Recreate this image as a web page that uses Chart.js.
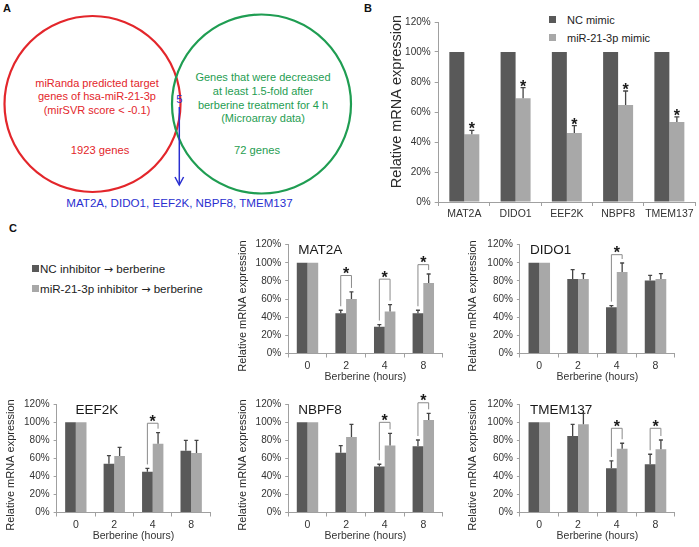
<!DOCTYPE html>
<html><head><meta charset="utf-8">
<script src="https://cdn.jsdelivr.net/npm/chart.js@4.4.1/dist/chart.umd.min.js"></script>
<style>
html,body{margin:0;padding:0;background:#fff}
body{width:699px;height:547px;position:relative;overflow:hidden;font-family:'Liberation Sans',Arial,Helvetica,sans-serif}
.t{position:absolute;white-space:nowrap;line-height:normal;transform:translateY(-50%)}
.tc{transform:translate(-50%,-50%)}
.arr{font-family:'DejaVu Sans',sans-serif;font-size:0.95em}
canvas{position:absolute}
.sq{position:absolute}
svg{position:absolute;left:0;top:0}
</style></head><body>
<script>
// ---------- data ----------
const vennLeftLabel = ['miRanda predicted target','genes of hsa-miR-21-3p','(mirSVR score < -0.1)'];
const vennRightLabel = ['Genes that were decreased','at least 1.5-fold after','berberine treatment for 4 h','(Microarray data)'];
const vennCounts = [1923, 72, 5];

const genes = ['MAT2A','DIDO1','EEF2K','NBPF8','TMEM137'];
const mimicSeries = ['NC mimic','miR-21-3p mimic'];
const ncMimic = [100,100,100,100,100];
const ncMimicErr = [0,0,0,0,0];
const mirMimic = [45.1,69.1,46.0,64.7,53.3];
const mirMimicErr = [2.7,7.1,4.9,9.3,3.4];
const mirMimicSig = [true,true,true,true,true];

const hours = ['0','2','4','8'];
const inhSeries = ['NC inhibitor \u2192 berberine','miR-21-3p inhibitor \u2192 berberine'];

const mat2aNC = [100,44.4,29.4,44.4];   const mat2aNCErr = [0,3.3,2.5,3.3];
const mat2aInh = [100,60.2,46.2,77.8];  const mat2aInhErr = [0,7.7,7.7,9.9];
const mat2aSig = [null,86,82,98];

const dido1NC = [100,82.2,51.0,80.4];   const dido1NCErr = [0,10.3,1.8,5.8];
const dido1Inh = [100,82.2,89.9,82.2];  const dido1InhErr = [0,5.9,9.9,5.9];
const dido1Sig = [null,null,109,null];

const eef2kNC = [100,54.1,45.2,68.5];   const eef2kNCErr = [0,8.9,3.7,11.5];
const eef2kInh = [100,62.6,76.3,65.9];  const eef2kInhErr = [0,9.6,12.2,14.1];
const eef2kSig = [null,null,99,null];

const nbpf8NC = [100,66.4,50.9,73.4];   const nbpf8NCErr = [0,7.8,2.6,7.0];
const nbpf8Inh = [100,83.8,74.2,102.6]; const nbpf8InhErr = [0,14.0,13.6,7.4];
const nbpf8Sig = [null,null,100,121.7];

const tmemNC = [100,84.9,49.1,53.5];    const tmemNCErr = [0,12.9,8.1,11.1];
const tmemInh = [100,97.8,70.8,70.1];   const tmemInhErr = [0,12.2,6.0,10.3];
const tmemSig = [null,null,93.4,93.4];

const yTickValues = [0,20,40,60,80,100,120];

// ---------- styling ----------
const FONT = "'Liberation Sans', Arial, Helvetica, sans-serif";
const C_DARK = '#595959', C_LIGHT = '#a8a8a8', AXIS = '#a0a0a0', TXT = '#333333';

function addText(str, x, y, o) {
  const d = document.createElement('div');
  d.className = 't' + (o.center ? ' tc' : '');
  const parts = str.split('\u2192');
  parts.forEach((p, i) => {
    d.appendChild(document.createTextNode(p));
    if (i < parts.length - 1) {
      const s = document.createElement('span'); s.className = 'arr'; s.textContent = '\u2192'; d.appendChild(s);
    }
  });
  d.style.left = x + 'px'; d.style.top = y + 'px';
  d.style.fontSize = (o.size || 11) + 'px';
  d.style.color = o.color || TXT;
  if (o.bold) d.style.fontWeight = 'bold';
  document.body.appendChild(d);
}
function addSquare(x, y, s, color) {
  const d = document.createElement('div');
  d.className = 'sq';
  d.style.cssText = `left:${x}px;top:${y}px;width:${s}px;height:${s}px;background:${color}`;
  document.body.appendChild(d);
}

// ---------- Venn (panel A) ----------
(function venn() {
  const NS = 'http://www.w3.org/2000/svg';
  const svg = document.createElementNS(NS, 'svg');
  svg.setAttribute('width', 360); svg.setAttribute('height', 215);
  const el = (tag, attrs, text) => {
    const e = document.createElementNS(NS, tag);
    for (const k in attrs) e.setAttribute(k, attrs[k]);
    if (text !== undefined) e.textContent = text;
    svg.appendChild(e); return e;
  };
  const RED = '#e3262b', GREEN = '#1f9d52', BLUE = '#2a2fd0';
  el('circle', {cx: 92.5, cy: 104, r: 88, fill: 'none', stroke: RED, 'stroke-width': 2.2});
  el('circle', {cx: 261.5, cy: 104, r: 89.5, fill: 'none', stroke: GREEN, 'stroke-width': 2.2});
  const tAttr = (x, y, fill, size) => ({x, y, fill, 'font-size': size, 'font-family': FONT, 'text-anchor': 'middle', 'dominant-baseline': 'central'});
  vennLeftLabel.forEach((s, i) => el('text', tAttr(97, 82.7 + i * 13.7, RED, 11), s));
  vennRightLabel.forEach((s, i) => el('text', tAttr(263, 76.7 + i * 13.9, GREEN, 11), s));
  el('text', tAttr(100, 150, RED, 11.2), vennCounts[0] + ' genes');
  el('text', tAttr(257, 150, GREEN, 11.2), vennCounts[1] + ' genes');
  el('text', tAttr(179.3, 98.5, BLUE, 11.2), String(vennCounts[2]));
  el('line', {x1: 179.3, y1: 107, x2: 179.3, y2: 184.5, stroke: BLUE, 'stroke-width': 1.5});
  el('polyline', {points: '175,177 179.3,185 183.6,177', fill: 'none', stroke: BLUE, 'stroke-width': 1.5});
  el('text', tAttr(179.5, 202.5, BLUE, 11.6), genes.join(', '));
  document.body.appendChild(svg);
})();

// ---------- panel letters & legends ----------
addText('A', 3, 7.5, {size: 11, bold: true, color: '#111'});
addText('B', 364, 7.5, {size: 11, bold: true, color: '#111'});
addText('C', 9, 228, {size: 11, bold: true, color: '#111'});

addSquare(549, 16, 7, C_DARK);  addText(mimicSeries[0], 567, 19.5, {size: 11, color: '#222'});
addSquare(549, 34, 7, C_LIGHT); addText(mimicSeries[1], 567, 37.5, {size: 11, color: '#222'});

addSquare(32, 265, 7, C_DARK);  addText(inhSeries[0], 40, 268.5, {size: 11.6, color: '#222'});
addSquare(32, 285, 7, C_LIGHT); addText(inhSeries[1], 40, 288.5, {size: 11.6, color: '#222'});

// ---------- plugins ----------
const errPlugin = {
  id: 'errbars',
  afterDatasetsDraw(chart, args, opts) {
    const ctx = chart.ctx, ys = chart.scales.y;
    ctx.save();
    ctx.lineWidth = 1.3; ctx.strokeStyle = '#454545';
    const tops = [];
    chart.data.datasets.forEach((ds, di) => {
      const meta = chart.getDatasetMeta(di);
      tops[di] = [];
      meta.data.forEach((bar, i) => {
        const e = ds.errors ? ds.errors[i] : 0;
        const top = ys.getPixelForValue(ds.data[i] + (e || 0));
        tops[di][i] = {x: bar.x, y: top};
        if (!e) return;
        ctx.beginPath();
        ctx.moveTo(bar.x, bar.y); ctx.lineTo(bar.x, top);
        ctx.moveTo(bar.x - opts.cap / 2, top); ctx.lineTo(bar.x + opts.cap / 2, top);
        ctx.stroke();
      });
    });
    ctx.fillStyle = '#1a1a1a';
    ctx.font = 'bold ' + opts.starSize + 'px ' + FONT;
    ctx.textAlign = 'center'; ctx.textBaseline = 'alphabetic';
    if (opts.stars) {
      opts.stars.forEach((s, i) => {
        if (!s) return;
        const p = tops[1][i];
        ctx.fillText('*', p.x, p.y + 4);
      });
    }
    if (opts.sig) {
      ctx.strokeStyle = '#8a8a8a'; ctx.lineWidth = 1;
      opts.sig.forEach((lvl, i) => {
        if (lvl == null) return;
        const a = tops[0][i], b = tops[1][i];
        const yl = ys.getPixelForValue(lvl);
        ctx.beginPath();
        ctx.moveTo(a.x, a.y - 4); ctx.lineTo(a.x, yl); ctx.lineTo(b.x, yl); ctx.lineTo(b.x, b.y - 4);
        ctx.stroke();
        ctx.fillText('*', (a.x + b.x) / 2, yl + 3.5);
      });
    }
    ctx.restore();
  }
};
const yTitlePlugin = {
  id: 'ytitle',
  afterDraw(chart, args, o) {
    const ctx = chart.ctx;
    ctx.save();
    ctx.translate(o.x, o.y); ctx.rotate(-Math.PI / 2);
    ctx.font = o.size + 'px ' + FONT; ctx.fillStyle = '#2a2a2a';
    ctx.textAlign = 'center'; ctx.textBaseline = 'middle';
    ctx.fillText(o.text, 0, 0);
    ctx.restore();
  }
};
const chartTitlePlugin = {
  id: 'ctitle',
  afterDraw(chart, args, o) {
    if (!o.text) return;
    const ctx = chart.ctx;
    ctx.save();
    ctx.font = o.size + 'px ' + FONT; ctx.fillStyle = '#1a1a1a';
    ctx.textAlign = 'left'; ctx.textBaseline = 'middle';
    ctx.fillText(o.text, chart.chartArea.left + o.dx, chart.chartArea.top + o.dy);
    ctx.restore();
  }
};

function makeChart(box, area, o) {
  const cv = document.createElement('canvas');
  cv.width = box.w; cv.height = box.h;
  cv.style.cssText = `left:${box.l}px;top:${box.t}px;width:${box.w}px;height:${box.h}px`;
  document.body.appendChild(cv);
  const yW = area.l - box.l;
  const padTop = area.t - box.t;
  const padRight = box.l + box.w - area.r;
  const padBottom = box.t + box.h - area.b - o.xH;
  return new Chart(cv, {
    type: 'bar',
    data: {
      labels: o.labels,
      datasets: [
        {label: o.names[0], data: o.d1, errors: o.e1, backgroundColor: C_DARK, borderWidth: 0, categoryPercentage: o.cat, barPercentage: 1},
        {label: o.names[1], data: o.d2, errors: o.e2, backgroundColor: C_LIGHT, borderWidth: 0, categoryPercentage: o.cat, barPercentage: 1}
      ]
    },
    options: {
      responsive: false, animation: false, devicePixelRatio: 1,
      layout: {padding: {left: 0, top: padTop, right: padRight, bottom: padBottom}},
      plugins: {
        legend: {display: false}, tooltip: {enabled: false},
        errbars: {cap: o.cap, stars: o.stars, sig: o.sig, starSize: 16},
        ytitle: {text: 'Relative mRNA expression', x: o.yt[0] - box.l, y: o.yt[1] - box.t, size: o.ytSize},
        ctitle: {text: o.title, dx: o.tdx || 10, dy: 5.5, size: 13.5}
      },
      scales: {
        x: {
          type: 'category', offset: true,
          grid: {display: true, offset: true, drawOnChartArea: false, drawTicks: true, tickLength: 4, color: AXIS},
          border: {display: true, color: AXIS, width: 1},
          ticks: {font: {family: FONT, size: o.xFont}, color: TXT, padding: o.xPad, maxRotation: 0, autoSkip: false},
          title: o.xTitle ? {display: true, text: o.xTitle, font: {family: FONT, size: 10.5}, color: TXT, padding: {top: 0, bottom: 2}} : {display: false},
          afterFit: s => { s.height = o.xH; }
        },
        y: {
          min: 0, max: 120,
          afterBuildTicks: s => { s.ticks = yTickValues.map(v => ({value: v})); },
          ticks: {callback: v => v + '%', font: {family: FONT, size: 10}, color: TXT, padding: o.yPad},
          grid: {display: true, drawOnChartArea: false, drawTicks: true, tickLength: o.yTick, color: AXIS},
          border: {display: true, color: AXIS, width: 1},
          afterFit: s => { s.width = yW; }
        }
      }
    },
    plugins: [errPlugin, yTitlePlugin, chartTitlePlugin]
  });
}

// Panel B
makeChart({l: 360, t: 6, w: 339, h: 224}, {l: 438.7, t: 22, r: 695, b: 202}, {
  labels: genes, names: mimicSeries, d1: ncMimic, e1: ncMimicErr, d2: mirMimic, e2: mirMimicErr,
  cat: 0.585, cap: 5, stars: mirMimicSig, xH: 22, xFont: 10.5, xPad: 2, yPad: 4, yTick: 4,
  yt: [397, 101.5], ytSize: 14.5
});

// Panel C small multiples
const small = [
  {title: 'MAT2A', d1: mat2aNC, e1: mat2aNCErr, d2: mat2aInh, e2: mat2aInhErr, sig: mat2aSig,
   box: {l: 230, t: 230, w: 220, h: 156}, area: {l: 288.2, t: 244.7, r: 442.6, b: 353.5}, yt: [243.3, 306]},
  {title: 'DIDO1', d1: dido1NC, e1: dido1NCErr, d2: dido1Inh, e2: dido1InhErr, sig: dido1Sig,
   box: {l: 460, t: 230, w: 239, h: 156}, area: {l: 519.9, t: 244.7, r: 674.9, b: 353.5}, yt: [473, 306]},
  {title: 'EEF2K', d1: eef2kNC, e1: eef2kNCErr, d2: eef2kInh, e2: eef2kInhErr, sig: eef2kSig, tdx: 19,
   box: {l: 0, t: 386, w: 225, h: 161}, area: {l: 56.6, t: 404.3, r: 210.4, b: 512.5}, yt: [10.5, 465]},
  {title: 'NBPF8', d1: nbpf8NC, e1: nbpf8NCErr, d2: nbpf8Inh, e2: nbpf8InhErr, sig: nbpf8Sig,
   box: {l: 230, t: 386, w: 220, h: 161}, area: {l: 288.2, t: 404.3, r: 442.6, b: 512.5}, yt: [243.3, 465]},
  {title: 'TMEM137', d1: tmemNC, e1: tmemNCErr, d2: tmemInh, e2: tmemInhErr, sig: tmemSig,
   box: {l: 460, t: 386, w: 239, h: 161}, area: {l: 519.9, t: 404.3, r: 674.9, b: 512.5}, yt: [473, 465]}
];
small.forEach(c => makeChart(c.box, c.area, {
  labels: hours, names: inhSeries, d1: c.d1, e1: c.e1, d2: c.d2, e2: c.e2, sig: c.sig,
  title: c.title, tdx: c.tdx, cat: 0.555, cap: 4, xH: 32, xFont: 10.5, xPad: 2, yPad: 4, yTick: 3,
  xTitle: 'Berberine (hours)', yt: c.yt, ytSize: 11
}));
</script>
</body></html>
